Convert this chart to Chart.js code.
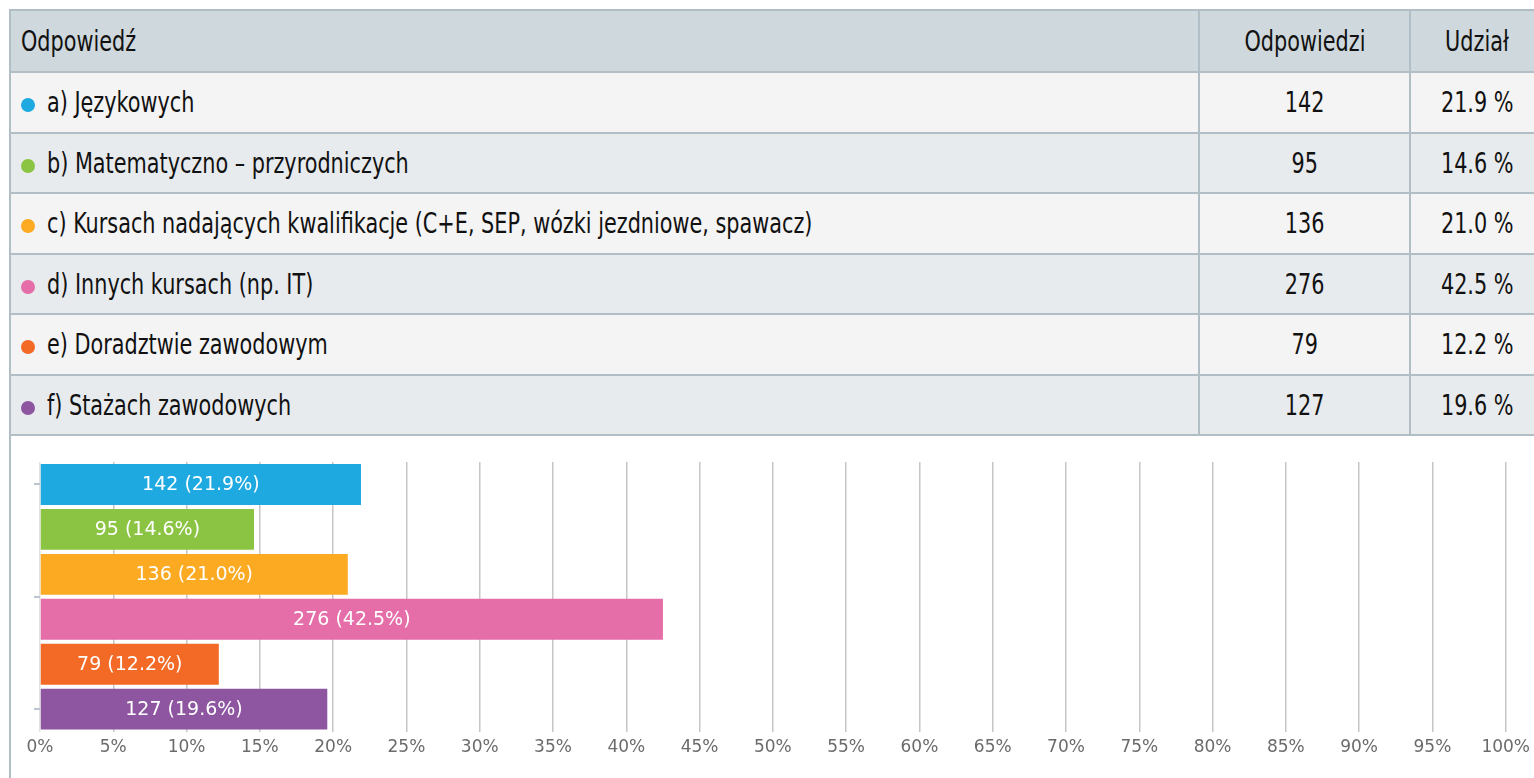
<!DOCTYPE html>
<html lang="pl">
<head>
<meta charset="utf-8">
<title>Odpowiedzi</title>
<script src="https://cdn.jsdelivr.net/npm/chart.js@4/dist/chart.umd.min.js"></script>
<style>
  html, body {
    margin: 0;
    padding: 0;
    background: #fff;
    overflow: hidden;
  }
  body {
    width: 1534px;
    height: 778px;
    position: relative;
    font-family: "DejaVu Sans Condensed", "DejaVu Sans", sans-serif;
  }
  #results {
    position: absolute;
    left: 9px;
    top: 9px;
    width: 1536px;
    border-collapse: collapse;
    color: #111;
  }
  #results th, #results td {
    border: 2px solid #b2bec5;
    padding: 0 10px;
    font-weight: normal;
    white-space: nowrap;
    box-sizing: border-box;
  }
  #results th {
    background: #cfd8dc;
    height: 62px;
  }
  #results tbody td { height: 60.5px; }
  #results th:first-child, #results td:first-child {
    text-align: left;
  }
  #results .num {
    text-align: center;
  }
  #results tbody tr:nth-child(odd) td { background: #f4f4f4; }
  #results tbody tr:nth-child(even) td { background: #e8ebed; }
  .txt {
    display: inline-block;
    font-size: 27.5px;
    transform: scaleX(0.84);
    transform-origin: left center;
  }
  .num .txt { transform-origin: center center; }
  .dot {
    display: inline-block;
    width: 14px;
    height: 14px;
    border-radius: 50%;
    margin-right: 12px;
    vertical-align: 0px;
  }
  #chart-box {
    position: absolute;
    left: 9px;
    top: 436px;
    width: 1525px;
    height: 342px;
    border-left: 2px solid #b2bec5;
  }
</style>
</head>
<body>
<table id="results">
  <thead>
    <tr>
      <th><span class="txt">Odpowiedź</span></th>
      <th class="num" style="width:211px"><span class="txt">Odpowiedzi</span></th>
      <th class="num" style="width:134px"><span class="txt">Udział</span></th>
    </tr>
  </thead>
  <tbody id="rows"></tbody>
</table>
<div id="chart-box"><canvas id="chart"></canvas></div>

<script>
const answers = [
  "a) Językowych",
  "b) Matematyczno – przyrodniczych",
  "c) Kursach nadających kwalifikacje (C+E, SEP, wózki jezdniowe, spawacz)",
  "d) Innych kursach (np. IT)",
  "e) Doradztwie zawodowym",
  "f) Stażach zawodowych",
];
const counts = [142, 95, 136, 276, 79, 127];
const shares = [21.9, 14.6, 21.0, 42.5, 12.2, 19.6];
const colors = ["#1fa9e1", "#8bc443", "#fbaa22", "#e56ea9", "#f26a25", "#8e55a0"];
const xTicks = [0, 5, 10, 15, 20, 25, 30, 35, 40, 45, 50, 55, 60, 65, 70, 75, 80, 85, 90, 95, 100];
// marks on the left edge: first bar, middle, last bar
const yMarks = [0, 2.5, 5];

// table rows
const tbody = document.getElementById("rows");
answers.forEach((answer, i) => {
  const tr = document.createElement("tr");
  tr.innerHTML =
    `<td><span class="dot" style="background:${colors[i]}"></span><span class="txt">${answer}</span></td>` +
    `<td class="num"><span class="txt">${counts[i]}</span></td>` +
    `<td class="num"><span class="txt">${shares[i].toFixed(1)} %</span></td>`;
  tbody.appendChild(tr);
});

// white "count (share%)" text inside each bar
const barLabels = {
  id: "barLabels",
  afterDatasetsDraw(chart) {
    const ctx = chart.ctx;
    const meta = chart.getDatasetMeta(0);
    ctx.save();
    ctx.fillStyle = "#fff";
    ctx.font = '19px "DejaVu Sans"';
    ctx.textAlign = "center";
    ctx.textBaseline = "middle";
    meta.data.forEach((bar, i) => {
      const p = bar.getCenterPoint();
      ctx.fillText(`${counts[i]} (${shares[i].toFixed(1)}%)`, p.x, p.y + 1);
    });
    ctx.restore();
  },
};

const ctx = document.getElementById("chart").getContext("2d");
const chart = new Chart(ctx, {
  type: "bar",
  data: {
    labels: answers,
    datasets: [
      {
        data: shares,
        backgroundColor: colors,
        borderWidth: 0,
        categoryPercentage: 1,
        barPercentage: 0.91,
      },
    ],
  },
  options: {
    indexAxis: "y",
    responsive: true,
    maintainAspectRatio: false,
    animation: false,
    layout: {
      padding: { left: 23, right: 29, top: 26, bottom: 14 },
    },
    plugins: {
      legend: { display: false },
      tooltip: { enabled: false },
    },
    scales: {
      x: {
        min: 0,
        max: 100,
        afterBuildTicks: (axis) => {
          axis.ticks = xTicks.map((v) => ({ value: v }));
        },
        ticks: {
          color: "#6b6b6b",
          font: { family: "DejaVu Sans", size: 17 },
          padding: 6,
          callback: (v) => v + "%",
        },
        grid: {
          color: (c) => (c.index === 0 ? "#e2e2e2" : "#c6c6c6"),
          lineWidth: 1.5,
          drawTicks: false,
        },
        border: { display: false },
      },
      y: {
        afterBuildTicks: (axis) => {
          axis.ticks = yMarks.map((v) => ({ value: v }));
        },
        ticks: { display: false, callback: () => "" },
        grid: {
          offset: false,
          drawOnChartArea: false,
          tickLength: 6,
          tickColor: "#bcc6d0",
          lineWidth: 2,
        },
        border: { display: false },
      },
    },
  },
  plugins: [barLabels],
});
</script>
</body>
</html>
